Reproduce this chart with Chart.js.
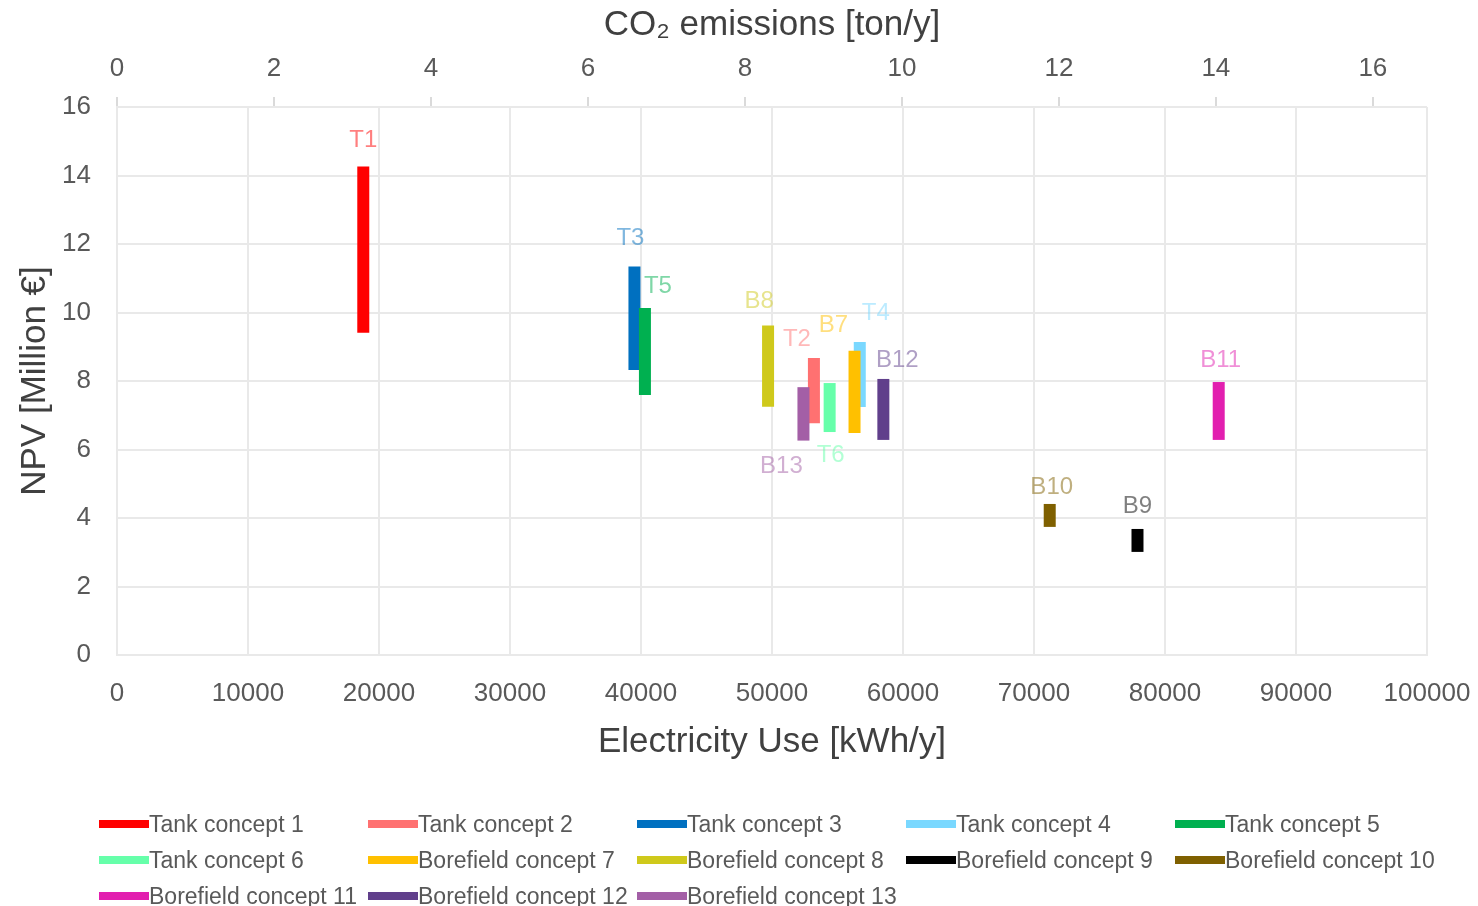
<!DOCTYPE html>
<html>
<head>
<meta charset="utf-8">
<script src="https://cdn.jsdelivr.net/npm/chart.js@4.4.1/dist/chart.umd.min.js"></script>
<style>
  body { margin: 0; background: #fff; }
  #wrap { position: relative; width: 1478px; height: 906px; }
  #legend { position: absolute; left: 99px; top: 806px; display: grid;
            grid-template-columns: repeat(5, 269px); grid-auto-rows: 36px;
            font-family: 'Liberation Sans', Arial, sans-serif; font-size: 23px; color: #595959; }
  .item { display: flex; align-items: center; white-space: nowrap; }
  .swatch { width: 50px; height: 8px; margin-right: 0; flex: none; }
</style>
</head>
<body>
<div id="wrap">
  <canvas id="chart" width="1478" height="906"></canvas>
  <div id="legend"></div>
</div>
<script>
// concept names, short labels and values
const concepts = ['Tank concept 1', 'Tank concept 2', 'Tank concept 3', 'Tank concept 4', 'Tank concept 5',
    'Tank concept 6', 'Borefield concept 7', 'Borefield concept 8', 'Borefield concept 9', 'Borefield concept 10',
    'Borefield concept 11', 'Borefield concept 12', 'Borefield concept 13'];
const shortLabels = ['T1', 'T2', 'T3', 'T4', 'T5', 'T6', 'B7', 'B8', 'B9', 'B10', 'B11', 'B12', 'B13'];
const electricityUse = [18800, 53200, 39500, 56700, 40300, 54400, 56300, 49700, 77900, 71200, 84100, 58500, 52400];
const npvMin = [9.41, 6.77, 8.32, 7.24, 7.59, 6.51, 6.48, 7.25, 3.01, 3.74, 6.28, 6.28, 6.26];
const npvMax = [14.26, 8.67, 11.34, 9.14, 10.13, 7.94, 8.88, 9.62, 3.68, 4.41, 7.97, 8.06, 7.82];
const colors = ['#FF0000', '#FF7171', '#0070C0', '#7AD8FF', '#00B050', '#66FFAA', '#FFC000',
    '#CFC91B', '#000000', '#7F6000', '#E21FAF', '#603F8B', '#A35FA6'];

const electricityTicks = [0, 10000, 20000, 30000, 40000, 50000, 60000, 70000, 80000, 90000, 100000];
const npvTicks = [0, 2, 4, 6, 8, 10, 12, 14, 16];
const co2Ticks = [0, 2, 4, 6, 8, 10, 12, 14, 16];
const co2Max = 16.69;

// where each short label sits relative to its bar (end, dx, gap)
const labelPlacement = {
    T1: ['top', 0, 26], T2: ['top', -17, 19], T3: ['top', -4, 28], T4: ['top', 16, 29], T5: ['top', 13, 22],
    T6: ['bottom', 1, 23], B7: ['top', -21, 25], B8: ['top', -9, 24], B9: ['top', 0, 23], B10: ['top', 2, 17],
    B11: ['top', 2, 22], B12: ['top', 14, 19], B13: ['bottom', -22, 26]
};

const FONT = "'Liberation Sans', Arial, sans-serif";
const GRID = '#E9E9E9';

function hexAlpha(hex, a) {
    const n = parseInt(hex.slice(1), 16);
    return `rgba(${n >> 16},${(n >> 8) & 255},${n & 255},${a})`;
}

const barLabels = {
    id: 'barLabels',
    afterDatasetsDraw(chart) {
        const ctx = chart.ctx;
        const xs = chart.scales.x, ys = chart.scales.y;
        ctx.save();
        ctx.font = `24px ${FONT}`;
        ctx.textAlign = 'center';
        ctx.textBaseline = 'middle';
        shortLabels.forEach((lab, i) => {
            const [end, dx, gap] = labelPlacement[lab];
            const x = xs.getPixelForValue(electricityUse[i]) + dx;
            const y = end === 'top' ? ys.getPixelForValue(npvMax[i]) - gap : ys.getPixelForValue(npvMin[i]) + gap;
            ctx.fillStyle = hexAlpha(colors[i], 0.5);
            ctx.fillText(lab, x, y);
        });
        ctx.restore();
    }
};

const datasets = concepts.map((name, i) => ({
    label: name,
    data: [{ x: electricityUse[i], y: npvMin[i] }, { x: electricityUse[i], y: npvMax[i] }],
    borderColor: colors[i],
    backgroundColor: colors[i],
    borderWidth: 12,
    borderCapStyle: 'butt',
    showLine: true,
    pointRadius: 0,
    order: concepts.length - i
}));

// keep the plot area fixed: no extra room for overhanging tick labels
const noOverhang = s => { s.paddingLeft = 0; s.paddingRight = 0; };

new Chart(document.getElementById('chart'), {
    type: 'scatter',
    data: { datasets },
    plugins: [barLabels],
    options: {
        responsive: false,
        animation: false,
        layout: { padding: { left: 0, right: 51, top: 0, bottom: 136 } },
        plugins: { legend: { display: false }, tooltip: { enabled: false } },
        scales: {
            x: {
                type: 'linear', position: 'bottom', min: 0, max: 100000,
                afterBuildTicks: s => { s.ticks = electricityTicks.map(v => ({ value: v })); },
                afterFit: s => { s.height = 115; noOverhang(s); },
                grid: { color: GRID, lineWidth: 2, drawTicks: false },
                border: { color: GRID, width: 2 },
                ticks: { padding: 23, color: '#595959', font: { family: FONT, size: 26 }, maxRotation: 0, autoSkip: false,
                    callback: v => String(v) },
                title: { display: true, text: 'Electricity Use [kWh/y]', color: '#404040',
                    font: { family: FONT, size: 35 }, padding: { bottom: 7 } }
            },
            x2: {
                type: 'linear', position: 'top', min: 0, max: co2Max,
                afterBuildTicks: s => { s.ticks = co2Ticks.map(v => ({ value: v })); },
                afterFit: s => { s.height = 107; noOverhang(s); },
                grid: { drawOnChartArea: false, drawTicks: true, tickLength: 10, color: '#DADADA', lineWidth: 2 },
                border: { display: false },
                ticks: { padding: 13, color: '#595959', font: { family: FONT, size: 26 }, maxRotation: 0, autoSkip: false,
                    callback: v => String(v) },
                title: { display: true, text: 'CO\u2082 emissions [ton/y]', color: '#404040',
                    font: { family: FONT, size: 35 }, padding: { top: 4 } }
            },
            y: {
                type: 'linear', position: 'left', min: 0, max: 16,
                afterBuildTicks: s => { s.ticks = npvTicks.map(v => ({ value: v })); },
                afterFit: s => { s.width = 117; },
                grid: { color: GRID, lineWidth: 2, drawTicks: false },
                border: { color: GRID, width: 2 },
                ticks: { padding: 26, color: '#595959', font: { family: FONT, size: 26 } },
                title: { display: true, text: 'NPV [Million \u20AC]', color: '#404040',
                    font: { family: FONT, size: 35 }, padding: { top: 14 } }
            }
        }
    }
});

// legend laid out in fixed columns like the original
const legendEl = document.getElementById('legend');
concepts.forEach((name, i) => {
    const item = document.createElement('div');
    item.className = 'item';
    const sw = document.createElement('span');
    sw.className = 'swatch';
    sw.style.background = colors[i];
    const txt = document.createElement('span');
    txt.textContent = name;
    item.appendChild(sw);
    item.appendChild(txt);
    legendEl.appendChild(item);
});
</script>
</body>
</html>
